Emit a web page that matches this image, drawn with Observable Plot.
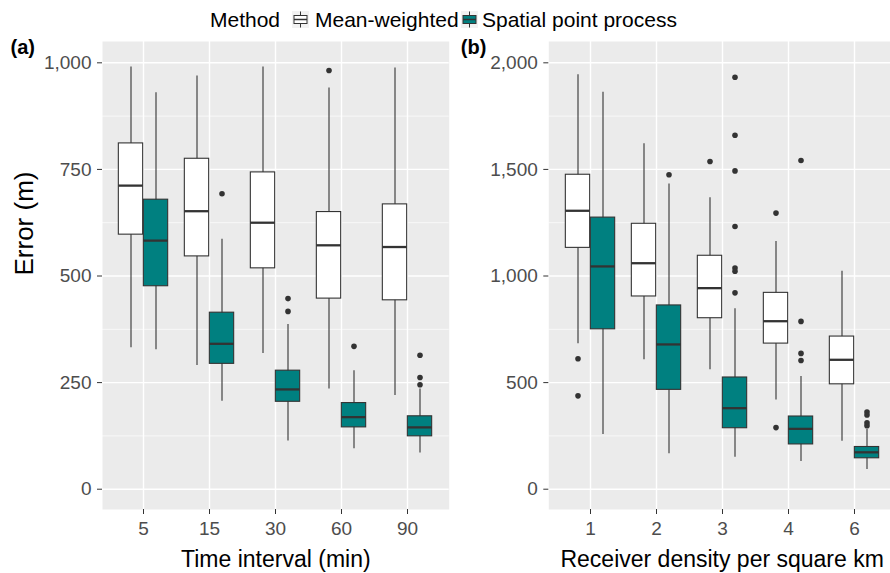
<!DOCTYPE html>
<html><head><meta charset="utf-8">
<script src="https://cdn.jsdelivr.net/npm/d3@7"></script>
<script src="https://cdn.jsdelivr.net/npm/@observablehq/plot@0.6"></script>
<style>
html,body{margin:0;padding:0;background:#fff;}
#wrap{position:relative;width:890px;height:573px;overflow:hidden;font-family:"Liberation Sans",Arial,sans-serif;}
.lg{position:absolute;top:8px;font-size:21px;line-height:24px;color:#000;white-space:nowrap;}
.key{position:absolute;top:11px;}
.pl{position:absolute;top:36px;}
</style></head><body><div id="wrap"></div>
<script>
// ---- categories ----
const methods = ["Mean-weighted", "Spatial point process"];
const timeCats = ["5", "15", "30", "60", "90"];
const densityCats = ["1", "2", "3", "4", "6"];

// ---- panel (a): time interval ----
const timeMeanLo  = [332, 290, 318, 235, 220];
const timeMeanQ1  = [597, 546, 518, 447, 443];
const timeMeanMed = [712, 652, 625, 572, 568];
const timeMeanQ3  = [811, 775, 743, 650, 668];
const timeMeanHi  = [990, 969, 990, 941, 988];

const timeSppLo  = [327, 206, 113, 95, 85];
const timeSppQ1  = [476, 294, 205, 145, 124];
const timeSppMed = [583, 341, 234, 169, 145];
const timeSppQ3  = [679, 414, 278, 202, 171];
const timeSppHi  = [930, 586, 386, 278, 235];

const timeMeanOutCat = ["60"];
const timeMeanOutVal = [982];
const timeSppOutCat = ["15", "30", "30", "60", "90", "90", "90"];
const timeSppOutVal = [693, 447, 417, 335, 314, 262, 245];

// ---- panel (b): receiver density ----
const densMeanLo  = [682, 607, 560, 419, 225];
const densMeanQ1  = [1132, 904, 802, 683, 492];
const densMeanMed = [1306, 1060, 943, 788, 607];
const densMeanQ3  = [1475, 1245, 1095, 921, 716];
const densMeanHi  = [1944, 1620, 1367, 1162, 1022];

const densSppLo  = [257, 166, 150, 130, 92];
const densSppQ1  = [750, 466, 286, 210, 145];
const densSppMed = [1045, 679, 380, 283, 173];
const densSppQ3  = [1274, 862, 524, 341, 198];
const densSppHi  = [1862, 1432, 846, 529, 280];

const densMeanOutCat = ["1", "1", "3", "4", "4"];
const densMeanOutVal = [612, 438, 1537, 1295, 289];
const densSppOutCat = ["2", "3", "3", "3", "3", "3", "3", "3", "4", "4", "4", "4", "6", "6", "6", "6"];
const densSppOutVal = [1475, 1932, 1660, 1493, 1232, 1037, 1022, 921, 1542, 787, 637, 604, 362, 348, 312, 298];

// ---- tick labels ----
const timeTicks = [0, 250, 500, 750, 1000];
const timeMinor = [125, 375, 625, 875];
const densTicks = [0, 500, 1000, 1500, 2000];
const densMinor = [250, 750, 1250, 1750];

const colors = ["#ffffff", "#008080"];
const FONT = "'Liberation Sans', Arial, sans-serif";

function boxRows(cats, lo, q1, med, q3, hi) {
  return cats.map((c, i) => ({cat: c, lo: lo[i], q1: q1[i], med: med[i], q3: q3[i], hi: hi[i]}));
}
function outRows(cats, vals) {
  return cats.map((c, i) => ({cat: c, value: vals[i]}));
}

const STEP = 66.67, BOXW = 25;
const inset = (STEP - BOXW) / 2;
const offs = [-BOXW / 2, BOXW / 2];

function panel(o) {
  const marks = [
    Plot.frame({fill: "#ebebeb", stroke: "none"}),
    Plot.gridY({ticks: o.minor, stroke: "white", strokeOpacity: 1, strokeWidth: 0.7}),
    Plot.gridY({ticks: o.ticks, stroke: "white", strokeOpacity: 1, strokeWidth: 1.4}),
    Plot.gridX({stroke: "white", strokeOpacity: 1, strokeWidth: 1.4}),
    Plot.axisY({ticks: o.ticks, tickFormat: d3.format(","), tickSize: 5, tickPadding: 6, fontSize: 19, fill: "#4d4d4d", stroke: "#333", label: null}),
    Plot.axisX({tickSize: 5, tickPadding: 7, fontSize: 19, fill: "#4d4d4d", stroke: "#333", label: null})
  ];
  o.boxes.forEach((rows, j) => {
    marks.push(
      Plot.ruleX(rows, {x: "cat", y1: "lo", y2: "hi", dx: offs[j], stroke: "#333", strokeWidth: 1.1}),
      Plot.barY(rows, {x: "cat", y1: "q1", y2: "q3", dx: offs[j], insetLeft: inset, insetRight: inset, fill: colors[j], stroke: "#333", strokeWidth: 1.1}),
      Plot.tickY(rows, {x: "cat", y: "med", dx: offs[j], insetLeft: inset, insetRight: inset, stroke: "#333", strokeWidth: 2.3}),
      Plot.dot(o.outs[j], {x: "cat", y: "value", dx: offs[j], r: 2.8, fill: "#333", stroke: "none"})
    );
  });
  marks.push(
    Plot.text([o.xLabel], {frameAnchor: "bottom", dy: 57, lineAnchor: "bottom", fontSize: 23, fill: "black"}),
    Plot.text([o.tag], {frameAnchor: "top-left", dx: o.tagDx, dy: -2, lineAnchor: "top", textAnchor: "start", fontSize: 20, fontWeight: "bold", fill: "black"})
  );
  if (o.yLabel) marks.push(Plot.text([o.yLabel], {frameAnchor: "left", dx: -70, rotate: -90, lineAnchor: "bottom", fontSize: 26, fill: "black"}));
  return Plot.plot({
    width: o.width, height: 537,
    marginTop: 5, marginBottom: 64, marginLeft: o.marginLeft, marginRight: o.marginRight,
    style: {fontFamily: FONT, background: "transparent"},
    x: {type: "band", domain: o.cats, paddingInner: 0, paddingOuter: 0.1},
    y: {domain: o.yDomain},
    marks
  });
}

const wrap = document.getElementById("wrap");

const pa = panel({
  cats: timeCats, width: 450, marginLeft: 102, marginRight: 1.3,
  yDomain: [-47.6, 1050], ticks: timeTicks, minor: timeMinor,
  boxes: [boxRows(timeCats, timeMeanLo, timeMeanQ1, timeMeanMed, timeMeanQ3, timeMeanHi),
          boxRows(timeCats, timeSppLo, timeSppQ1, timeSppMed, timeSppQ3, timeSppHi)],
  outs: [outRows(timeMeanOutCat, timeMeanOutVal), outRows(timeSppOutCat, timeSppOutVal)],
  xLabel: "Time interval (min)", yLabel: "Error (m)", tag: "(a)", tagDx: -92
});
pa.classList.add("pl"); pa.style.left = "0px";
wrap.appendChild(pa);

const pb = panel({
  cats: densityCats, width: 445, marginLeft: 98.3, marginRight: 0,
  yDomain: [-95.2, 2100], ticks: densTicks, minor: densMinor,
  boxes: [boxRows(densityCats, densMeanLo, densMeanQ1, densMeanMed, densMeanQ3, densMeanHi),
          boxRows(densityCats, densSppLo, densSppQ1, densSppMed, densSppQ3, densSppHi)],
  outs: [outRows(densMeanOutCat, densMeanOutVal), outRows(densSppOutCat, densSppOutVal)],
  xLabel: "Receiver density per square km", tag: "(b)", tagDx: -88
});
pb.classList.add("pl"); pb.style.left = "450px";
wrap.appendChild(pb);

// ---- legend ----
function keySvg(fill) {
  return `<svg width="17" height="17" viewBox="0 0 17 17"><rect width="17" height="17" fill="#f2f2f2"/>` +
    `<line x1="8.5" x2="8.5" y1="0.5" y2="16.5" stroke="#333" stroke-width="1"/>` +
    `<rect x="2" y="4.5" width="13" height="8" fill="${fill}" stroke="#333" stroke-width="1"/>` +
    `<line x1="2" x2="15" y1="8.5" y2="8.5" stroke="#333" stroke-width="1.5"/></svg>`;
}
const legendItems = [
  {html: "Method", cls: "lg", left: 210},
  {html: keySvg(colors[0]), cls: "key", left: 292},
  {html: methods[0], cls: "lg", left: 315},
  {html: keySvg(colors[1]), cls: "key", left: 461},
  {html: methods[1], cls: "lg", left: 482}
];
legendItems.forEach(it => {
  const d = document.createElement("div");
  d.className = it.cls; d.style.left = it.left + "px"; d.innerHTML = it.html;
  wrap.appendChild(d);
});
</script></body></html>
